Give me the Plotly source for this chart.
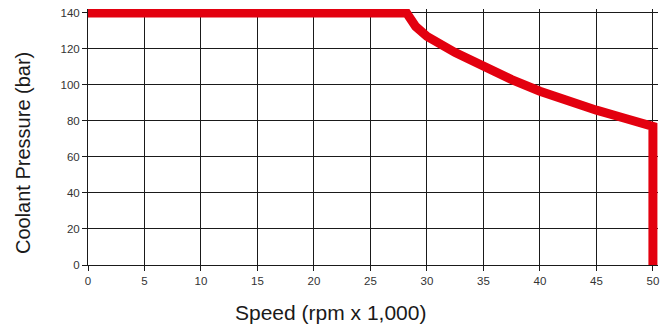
import plotly.graph_objects as go

speed = [0, 28.2, 29.0, 30, 32.5, 35, 37.5, 40, 42.5, 45, 47.5, 50, 50]
pressure = [140, 140, 132.5, 127, 118, 110, 103, 96.5, 91, 86, 81.5, 77, 0]

x_ticks = [0, 5, 10, 15, 20, 25, 30, 35, 40, 45, 50]
y_ticks = [0, 20, 40, 60, 80, 100, 120, 140]

x_title = "Speed (rpm x 1,000)"
y_title = "Coolant Pressure (bar)"

fig = go.Figure()
fig.add_trace(go.Scatter(
    x=speed, y=pressure, mode="lines",
    line=dict(color="#e3000f", width=9),
    showlegend=False, hoverinfo="skip",
))

font_family = "Liberation Sans, Arial, sans-serif"
axis_common = dict(
    showgrid=True, gridcolor="#1a1a1a", gridwidth=1,
    showline=True, linecolor="#1a1a1a", linewidth=1,
    ticks="outside", ticklen=5, tickcolor="#1a1a1a",
    zeroline=False, automargin=False,
    tickfont=dict(size=11.5, color="#333333", family=font_family),
)
fig.update_layout(
    width=670, height=326,
    margin=dict(l=88, r=12, t=9, b=61),
    paper_bgcolor="white", plot_bgcolor="white",
    font=dict(family=font_family, color="#333333", size=11),
    xaxis=dict(range=[0, 50.45], tickvals=x_ticks,
               ticktext=[str(v) for v in x_ticks], **axis_common),
    yaxis=dict(range=[0, 142.2], tickvals=y_ticks,
               ticktext=[str(v) for v in y_ticks], **axis_common),
    annotations=[
        dict(text=x_title, xref="paper", yref="paper", x=0.4246, y=-0.1836,
             xanchor="center", yanchor="middle", showarrow=False,
             font=dict(size=21, color="#1a1a1a", family=font_family)),
        dict(text=y_title, xref="paper", yref="paper", x=-0.114, y=0.4375,
             xanchor="center", yanchor="middle", showarrow=False, textangle=-90,
             font=dict(size=20, color="#1a1a1a", family=font_family)),
    ],
)

fig.write_html("out.html", config={"displayModeBar": False},
               post_script="document.body.style.margin='0';")
